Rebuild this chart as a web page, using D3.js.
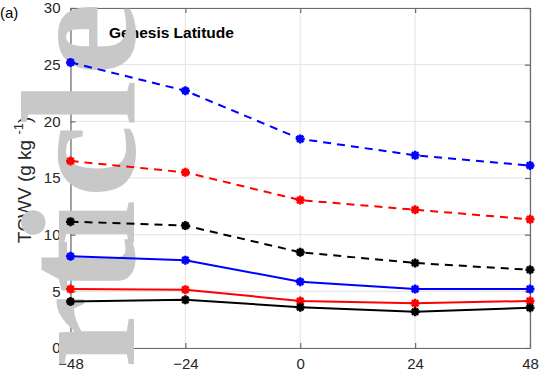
<!DOCTYPE html>
<html>
<head>
<meta charset="utf-8">
<script src="https://cdn.jsdelivr.net/npm/d3@7/dist/d3.min.js"></script>
<style>
  html, body { margin: 0; padding: 0; background: #fff; }
  svg { display: block; }
  text { font-family: "Liberation Sans", Arial, Helvetica, sans-serif; }
</style>
</head>
<body>
<svg id="chart" width="539" height="372"></svg>
<script>
// Lead time (h) relative to genesis
const leadHours = [-48, -24, 0, 24, 48];
const xTicks = [-48, -24, 0, 24, 48];
const yTicks = [0, 5, 10, 15, 20, 25, 30];

// TCWV (g kg^-1) for each group
const blueDashed  = [25.2, 22.7, 18.45, 17.0, 16.1];
const redDashed   = [16.5, 15.5, 13.05, 12.2, 11.35];
const blackDashed = [11.15, 10.8, 8.45, 7.5, 6.9];
const blueSolid   = [8.1, 7.75, 5.85, 5.2, 5.2];
const redSolid    = [5.2, 5.15, 4.15, 3.95, 4.15];
const blackSolid  = [4.1, 4.25, 3.6, 3.2, 3.55];

// vertical overlay lettering, bottom to top, with the centre of each glyph
const overlayLetters = ["r", "t", "i", "c", "l", "e"];
const overlayCentres = [332, 266, 223, 161, 103, 39];

const seriesList = [
  { values: blueDashed,  color: "#0000ff", dashed: true },
  { values: redDashed,   color: "#ff0000", dashed: true },
  { values: blackDashed, color: "#000000", dashed: true },
  { values: blueSolid,   color: "#0000ff", dashed: false },
  { values: redSolid,    color: "#ff0000", dashed: false },
  { values: blackSolid,  color: "#000000", dashed: false }
];

const svg = d3.select("#chart");
const plotLeft = 70.5, plotRight = 530, plotTop = 8, plotBottom = 348;

const x = d3.scaleLinear().domain([-48, 48]).range([plotLeft, plotRight]);
const y = d3.scaleLinear().domain([0, 30]).range([plotBottom, plotTop]);

// grid lines
const grid = svg.append("g").attr("stroke", "#e3e3e3").attr("stroke-width", 1);
xTicks.forEach(t => grid.append("line")
  .attr("x1", x(t)).attr("x2", x(t)).attr("y1", plotTop).attr("y2", plotBottom));
yTicks.forEach(t => grid.append("line")
  .attr("x1", plotLeft).attr("x2", plotRight).attr("y1", y(t)).attr("y2", y(t)));

// axes: ticks drawn inward, box on all sides
const axisColor = "#6b6b6b";
const styleAxis = g => {
  g.selectAll(".domain").attr("stroke", axisColor).attr("stroke-width", 1.2);
  g.selectAll(".tick line").attr("stroke", axisColor).attr("stroke-width", 1.2);
  g.selectAll(".tick text").attr("fill", "#262626")
    .style("font-size", "15px")
    .style("font-family", "'Liberation Sans', Arial, sans-serif");
};

svg.append("g").attr("transform", `translate(0,${plotBottom})`)
  .call(d3.axisBottom(x).tickValues(xTicks).tickSizeInner(-5).tickSizeOuter(0).tickPadding(10))
  .call(styleAxis);
svg.append("g").attr("transform", `translate(0,${plotTop})`)
  .call(d3.axisTop(x).tickValues(xTicks).tickSizeInner(-5).tickSizeOuter(0).tickFormat(""))
  .call(styleAxis);
svg.append("g").attr("transform", `translate(${plotLeft},0)`)
  .call(d3.axisLeft(y).tickValues(yTicks).tickSizeInner(-5).tickSizeOuter(0).tickPadding(10))
  .call(styleAxis);
svg.append("g").attr("transform", `translate(${plotRight},0)`)
  .call(d3.axisRight(y).tickValues(yTicks).tickSizeInner(-5).tickSizeOuter(0).tickFormat(""))
  .call(styleAxis);

// panel letter and title
svg.append("text").attr("x", 0).attr("y", 18)
  .style("font-size", "15px").attr("fill", "#000").text("(a)");
svg.append("text").attr("x", 109).attr("y", 38)
  .style("font-size", "15.5px").style("font-weight", "bold").attr("fill", "#000")
  .text("Genesis Latitude");

// y-axis label with superscript unit
const ylab = svg.append("text")
  .attr("transform", `translate(31,${(plotTop + plotBottom) / 2 + 2}) rotate(-90)`)
  .attr("text-anchor", "middle")
  .style("font-size", "19px").attr("fill", "#262626");
ylab.append("tspan").text("TCWV (g kg ");
ylab.append("tspan").attr("dy", -8.5).style("font-size", "13px").text(" -1");
ylab.append("tspan").attr("dy", 8.5).text(")");

// gray overlay lettering, read bottom to top
const overlay = svg.append("g");
overlayLetters.forEach((ch, i) => overlay.append("text")
  .attr("transform", `translate(134,${overlayCentres[i]}) rotate(-90)`)
  .attr("text-anchor", "middle")
  .style("font-family", "'Liberation Serif', 'Times New Roman', serif")
  .style("font-weight", "bold")
  .style("font-size", "164px")
  .attr("fill", "#c8c8c8")
  .text(ch));

// data lines and markers
const line = d3.line().x((d, i) => x(leadHours[i])).y(d => y(d));
const starPath = r => {
  const d = r * Math.SQRT1_2;
  return `M${-r},0L${r},0M0,${-r}L0,${r}M${-d},${-d}L${d},${d}M${-d},${d}L${d},${-d}`;
};

seriesList.forEach(s => {
  svg.append("path")
    .datum(s.values)
    .attr("d", line)
    .attr("fill", "none")
    .attr("stroke", s.color)
    .attr("stroke-width", 2)
    .attr("stroke-dasharray", s.dashed ? "8,6" : null);
  svg.append("g").selectAll("path")
    .data(s.values)
    .join("path")
    .attr("transform", (d, i) => `translate(${x(leadHours[i])},${y(d)})`)
    .attr("d", starPath(4.5))
    .attr("stroke", s.color)
    .attr("stroke-width", 2.5)
    .attr("fill", "none");
});
</script>
</body>
</html>
